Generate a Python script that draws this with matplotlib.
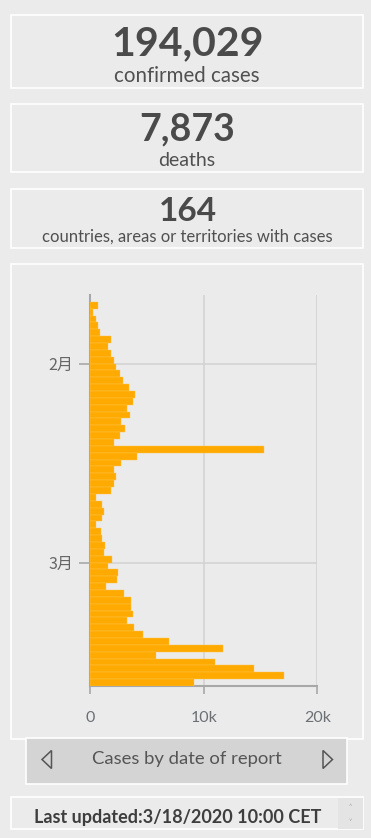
import matplotlib
matplotlib.use("Agg")
import matplotlib.pyplot as plt
import matplotlib.dates as mdates
from matplotlib.patches import Rectangle, Polygon
import numpy as np
import datetime as dt

# ---- data ----
start_date = "2020-01-23"
cases_k = [0.7, 0.3, 0.55, 0.7, 0.85, 1.85, 1.6, 1.85, 2.1, 2.25,
           2.6, 2.9, 3.4, 4.0, 3.8, 3.25, 3.5, 2.75, 3.1, 2.6,
           2.1, 15.27, 4.15, 2.75, 2.1, 2.25, 2.1, 1.85, 0.55, 1.05,
           1.2, 1.05, 0.55, 0.97, 1.05, 1.35, 1.2, 1.97, 1.6, 2.5,
           2.35, 1.45, 3.0, 3.65, 3.65, 3.8, 3.25, 3.9, 4.67, 6.96,
           11.69, 5.81, 11.04, 14.47, 17.06, 9.13]
cases = [v * 1000 for v in cases_k]
x_ticks = [0, 10000, 20000]
x_tick_labels = ["0", "10k", "20k"]
y_tick_dates = ["2020-02-01", "2020-03-01"]
y_tick_labels = ["2月", "3月"]
stat_values = ["194,029", "7,873", "164"]
stat_labels = ["confirmed cases", "deaths", "countries, areas or territories with cases"]
footer_title = "Cases by date of report"
updated_text = "Last updated:3/18/2020 10:00 CET"

W, H = 371, 838
BG = "#ebebeb"
TXT = "#4a4a4a"
BAR = "#ffaa00"
FONT = ["Lato", "DejaVu Sans"]
CJK = ["Noto Sans CJK SC", "DejaVu Sans"]

fig = plt.figure(figsize=(W / 100, H / 100), dpi=100, facecolor=BG)
bg = fig.add_axes([0, 0, 1, 1])
bg.set_xlim(0, W)
bg.set_ylim(H, 0)
bg.axis("off")
bg.set_facecolor(BG)

def box(x0, y0, x1, y1, fc=BG, ec="white", lw=1.2):
    bg.add_patch(Rectangle((x0, y0), x1 - x0, y1 - y0, facecolor=fc,
                           edgecolor=ec, linewidth=lw))

# stat boxes
box(10.5, 15.5, 363, 88.5)
box(10.5, 104, 363, 172.5)
box(10.5, 189, 363, 248.5)
box(10.5, 263.5, 363, 738.5)

val_y = [55, 140, 220.5]
val_fs = [29.5, 27, 24]
lab_y = [81.5, 166.5, 241.5]
lab_fs = [14.8, 14, 12]
for v, vy, vfs, l, ly, lfs in zip(stat_values, val_y, val_fs, stat_labels, lab_y, lab_fs):
    bg.text(187.5, vy, v, ha="center", va="baseline", fontsize=vfs,
            fontweight="bold", color=TXT, family=FONT)
    bg.text(187, ly, l, ha="center", va="baseline", fontsize=lfs,
            fontweight="normal", color="#505050", family=FONT)

# footer selector
bg.add_patch(Rectangle((26, 738), 321, 46, facecolor="#d4d4d4",
                       edgecolor="white", linewidth=1.2))
bg.text(187, 764, footer_title, ha="center", va="baseline", fontsize=13.3,
        color="#555555", family=FONT)
bg.add_patch(Polygon([(51.5, 750.5), (42, 759.5), (51.5, 768.5)], closed=True,
                     fill=False, edgecolor="#555555", linewidth=1.1))
bg.add_patch(Polygon([(323, 750.5), (332.5, 759.5), (323, 768.5)], closed=True,
                     fill=False, edgecolor="#555555", linewidth=1.1))

# last updated box
box(10.5, 797, 363, 829)
bg.add_patch(Rectangle((338, 797.5), 24.5, 31, facecolor="#e4e4e4", edgecolor="none"))
bg.text(350, 806, "˄", ha="center", va="center", fontsize=5, color="#aaaaaa", family=FONT)
bg.text(350, 821, "˅", ha="center", va="center", fontsize=5, color="#aaaaaa", family=FONT)
bg.text(178, 823, updated_text, ha="center", va="baseline", fontsize=13,
        fontweight="bold", color="#3e3e3e", family=FONT)

# ---- bar chart ----
ax_l, ax_r, ax_t, ax_b = 90, 317.3, 295, 686
ax = fig.add_axes([ax_l / W, 1 - ax_b / H, (ax_r - ax_l) / W, (ax_b - ax_t) / H])
ax.set_facecolor(BG)
d0 = np.datetime64(start_date)
dates = [mdates.date2num((d0 + np.timedelta64(i, "D")).astype(dt.datetime)) for i in range(len(cases))]
ax.barh(dates, cases, height=1.0, align="edge", color=BAR,
        edgecolor="#ffc44d", linewidth=0.3, zorder=3)

ymin = dates[0] - 1
ymax = dates[-1] + 1
ax.set_ylim(ymax, ymin)
ax.set_xlim(0, 20000)

ytk = [mdates.date2num(np.datetime64(d).astype(dt.datetime)) for d in y_tick_dates]
ax.set_yticks(ytk)
ax.set_yticklabels(y_tick_labels, family=CJK, fontsize=11.5, color="#666666")
ax.set_xticks(x_ticks)
ax.set_xticklabels(x_tick_labels, family=FONT, fontsize=11.5, color="#6b7075")
ax.grid(True, color="#d3d3d3", linewidth=1.2, zorder=0)
ax.set_axisbelow(True)
for s in ["top", "right"]:
    ax.spines[s].set_visible(False)
ax.spines["left"].set_color("#a8a8a8")
ax.spines["bottom"].set_color("#a8a8a8")
ax.spines["left"].set_linewidth(1.5)
ax.spines["bottom"].set_linewidth(1.5)
ax.tick_params(axis="y", length=8, width=1.2, color="#a8a8a8", pad=4)
ax.tick_params(axis="x", length=6, width=1.2, color="#a8a8a8", pad=12)

fig.savefig("out.png", dpi=100, facecolor=BG)
